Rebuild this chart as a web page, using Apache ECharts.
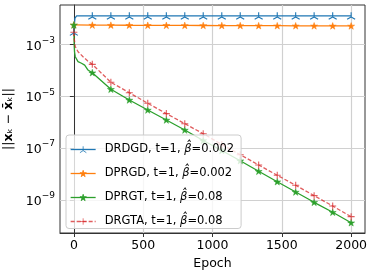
<!DOCTYPE html>
<html><head><meta charset="utf-8">
<script src="https://cdn.jsdelivr.net/npm/echarts@6/dist/echarts.min.js"></script>
<style>html,body{margin:0;padding:0;background:#fff}#c{width:374px;height:274px}</style>
</head><body><div id="c"></div>
<script>
// ---- data ----
const markerEpochs = [0,133,267,400,533,667,800,933,1067,1200,1333,1467,1600,1733,1867,2000];
const xTickValues = [0,500,1000,1500,2000];
const yTickValues = [1e-9,1e-7,1e-5,1e-3];
const seriesNames = [
  'DRDGD, t=1, β̂=0.002',
  'DPRGD, t=1, β̂=0.002',
  'DPRGT, t=1, β̂=0.08',
  'DRGTA, t=1, β̂=0.08'
];

const drdgdEpochs = [0,3,8,20,133,267,400,533,667,800,933,1067,1200,1333,1467,1600,1733,1867,2000];
const drdgdValues = [3.0e-3,5.5e-3,1.03e-2,1.25e-2,1.25e-2,1.25e-2,1.25e-2,1.25e-2,1.25e-2,1.25e-2,1.25e-2,1.25e-2,1.25e-2,1.25e-2,1.25e-2,1.25e-2,1.25e-2,1.25e-2,1.25e-2];

const dprgdEpochs = [0,133,267,400,533,667,800,933,1067,1200,1333,1467,1600,1733,1867,2000];
const dprgdValues = [5.6e-3,5.5e-3,5.45e-3,5.42e-3,5.4e-3,5.37e-3,5.34e-3,5.31e-3,5.28e-3,5.25e-3,5.22e-3,5.2e-3,5.17e-3,5.14e-3,5.12e-3,5.1e-3];

const dprgtEpochs = [0,2,5,10,30,55,78,102,133,267,400,533,667,800,933,1067,1200,1333,1467,1600,1733,1867,2000];
const dprgtValues = [5.56e-3,1.0e-3,5.0e-4,3.33e-4,2.14e-4,1.86e-4,1.58e-4,1.02e-4,8.05e-5,1.85e-5,7.14e-6,2.94e-6,1.21e-6,4.98e-7,1.96e-7,8.07e-8,3.27e-8,1.28e-8,5.07e-9,2.03e-9,8.15e-10,3.36e-10,1.33e-10];

const drgtaEpochs = [0,2,10,30,66,100,133,267,400,533,667,800,933,1067,1200,1333,1467,1600,1733,1867,2000];
const drgtaValues = [2.9e-3,1.75e-3,8.13e-4,5.19e-4,3.33e-4,2.29e-4,1.69e-4,3.44e-5,1.36e-5,5.32e-6,2.14e-6,8.71e-7,3.59e-7,1.38e-7,5.57e-8,2.23e-8,8.95e-9,3.69e-9,1.47e-9,5.87e-10,2.28e-10];

// ---- styling ----
const FONT = 'DejaVu Sans';
const colors = ['#1f77b4','#ff7f0e','#2ca02c','#d62728'];
const TRI = 'path://M0,0L0,-10M0,0L-8.66,5M0,0L8.66,5';
const STAR = 'path://M0,-10L2.245,-3.09L9.51,-3.09L3.633,1.18L5.878,8.09L0,3.82L-5.878,8.09L-3.633,1.18L-9.51,-3.09L-2.245,-3.09Z';
const PLUS = 'path://M-5,0L5,0M0,-5L0,5';

function build(epochs, values) {
  return epochs.map((e, i) => {
    const item = { value: [e, values[i]] };
    if (markerEpochs.indexOf(e) < 0) item.symbol = 'none';
    return item;
  });
}

function mk(idx, epochs, values, symbol, size, lineType, opacity, bw) {
  return {
    type: 'line',
    name: seriesNames[idx],
    data: build(epochs, values),
    symbol: symbol,
    symbolSize: size,
    symbolKeepAspect: true,
    showAllSymbol: true,
    smooth: false,
    animation: false,
    lineStyle: { color: colors[idx], width: 1.3, type: lineType, opacity: opacity },
    itemStyle: { color: colors[idx], borderColor: colors[idx], borderWidth: bw, opacity: opacity },
    emphasis: { disabled: true }
  };
}

const chart = echarts.init(document.getElementById('c'), null, { renderer: 'canvas' });
chart.setOption({
  animation: false,
  backgroundColor: '#fff',
  textStyle: { fontFamily: FONT },
  grid: { left: 60, top: 5, right: 9, bottom: 41, containLabel: false, outerBoundsMode: 'none',
    show: true, borderColor: '#333', borderWidth: 1, backgroundColor: 'transparent' },
  legend: {
    orient: 'vertical',
    left: 66, top: 135, z: 10,
    backgroundColor: 'rgba(255,255,255,0.8)',
    borderColor: '#cccccc', borderWidth: 1, borderRadius: 3,
    padding: [7.5, 7, 0, 4],
    itemWidth: 25, itemHeight: 8, itemGap: 10,
    itemStyle: { borderWidth: 0.8 },
    lineStyle: { width: 1.3 },
    textStyle: { fontFamily: FONT, fontSize: 11.5, color: '#000', padding: [0,0,0,4], lineHeight: 14,
      rich: { i: { fontFamily: FONT, fontSize: 11.5, lineHeight: 14, fontStyle: 'italic', color: '#000' } } },
    formatter: n => n.replace('β̂', '{i|β̂}'),
    data: seriesNames
  },
  xAxis: {
    type: 'value', min: -100, max: 2100,
    name: 'Epoch', nameLocation: 'middle', nameGap: 20,
    nameTextStyle: { fontFamily: FONT, fontSize: 12.5, color: '#000' },
    axisLine: { show: true, onZero: false, lineStyle: { color: '#333', width: 1 } },
    axisTick: { show: true, length: 4, inside: false, customValues: xTickValues, lineStyle: { color: '#333' } },
    axisLabel: { customValues: xTickValues, margin: 6, fontFamily: FONT, fontSize: 12.5, color: '#000',
      formatter: v => String(Math.round(v)) },
    splitLine: { show: true, lineStyle: { color: '#d0d0d0', width: 1.2 } }
  },
  yAxis: {
    type: 'log', logBase: 10, min: 5.35e-11, max: 0.0327,
    name: '||{b|x}ₖ − {b|x̄}ₖ||', nameLocation: 'middle', nameGap: 33, nameRotate: 90,
    nameTextStyle: { fontFamily: FONT, fontSize: 12.5, color: '#000',
      rich: { b: { fontFamily: FONT, fontSize: 12.5, fontWeight: 'bold', color: '#000' } } },
    axisLine: { show: true, lineStyle: { color: '#333', width: 1 } },
    axisTick: { show: true, length: 4, inside: false, customValues: yTickValues, lineStyle: { color: '#333' } },
    axisLabel: {
      customValues: yTickValues, margin: 5, fontFamily: FONT, color: '#000',
      formatter: v => '{b|10}{s|−' + Math.round(-Math.log10(v)) + '}',
      rich: {
        b: { fontFamily: FONT, fontSize: 12.5, lineHeight: 17, verticalAlign: 'bottom', color: '#000' },
        s: { fontFamily: FONT, fontSize: 9, lineHeight: 10, verticalAlign: 'top', color: '#000' }
      }
    },
    splitLine: { show: true, lineStyle: { color: '#d0d0d0', width: 1.2 } },
    minorTick: { show: false }, minorSplitLine: { show: false }
  },
  series: [
    mk(0, drdgdEpochs, drdgdValues, TRI, 8, 'solid', 1, 1.1),
    mk(1, dprgdEpochs, dprgdValues, STAR, 7, 'solid', 1, 0.5),
    mk(2, dprgtEpochs, dprgtValues, STAR, 7, 'solid', 1, 0.5),
    mk(3, drgtaEpochs, drgtaValues, PLUS, 7, [4, 2], 0.75, 1.1)
  ]
});
</script></body></html>
